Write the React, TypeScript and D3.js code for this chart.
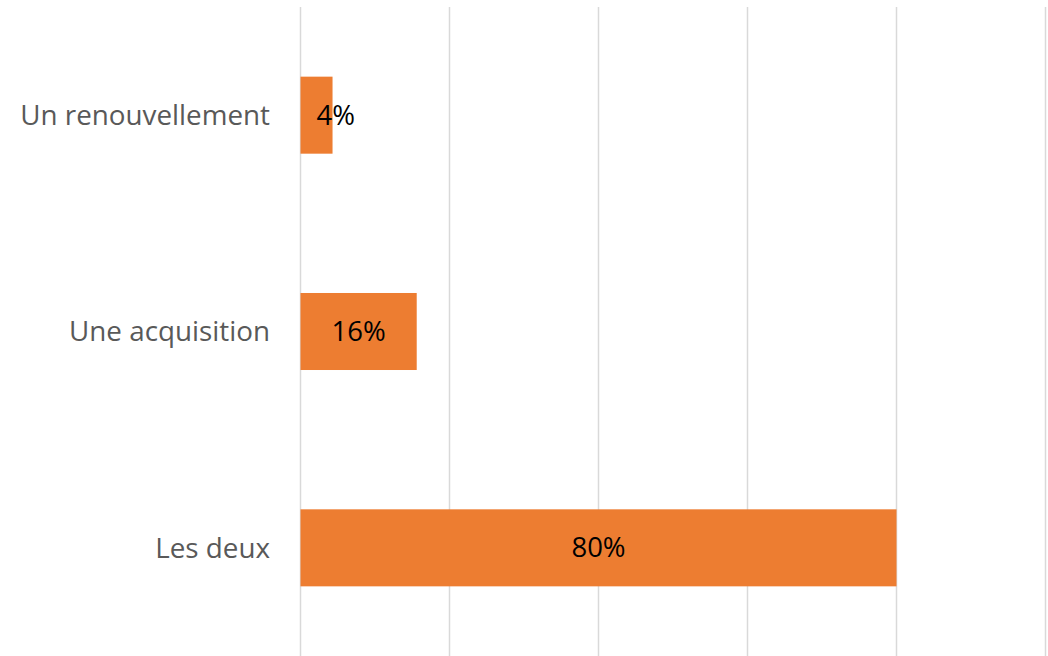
import React from "react";
import * as d3 from "d3";

const categories = ["Un renouvellement", "Une acquisition", "Les deux"];
const values = [4.3, 15.6, 80];
const ticks = [0, 20, 40, 60, 80, 100];

const W = 1048;
const H = 656;

export default function App() {
  const x = d3.scaleLinear().domain([0, 100]).range([300.5, 1045.5]);
  const y = d3
    .scaleBand<string>()
    .domain(categories)
    .range([7, 656])
    .paddingInner(0.644)
    .paddingOuter(0.322);
  const font = "'Open Sans', sans-serif";
  return (
    <div style={{ position: "absolute", left: 0, top: 0 }}>
      <svg width={W} height={H} style={{ display: "block", background: "#fff" }}>
        {ticks.map((t) => (
          <line key={t} x1={x(t)} x2={x(t)} y1={7} y2={H} stroke="#d9d9d9" strokeWidth={1.5} />
        ))}
        {categories.map((c, i) => {
          const y0 = y(c)!;
          const bw = x(values[i]) - x(0);
          const cx = x(0) + bw / 2;
          const narrow = bw < 50;
          return (
            <g key={c}>
              <rect x={x(0)} y={y0} width={bw} height={y.bandwidth()} fill="#ED7D31" />
              <text
                x={270}
                y={y0 + y.bandwidth() / 2}
                dy="0.35em"
                textAnchor="end"
                fill="#595959"
                fontFamily={font}
                fontSize={27.8}
              >
                {c}
              </text>
              <text
                x={cx}
                y={y0 + y.bandwidth() / 2}
                dy="0.35em"
                textAnchor={narrow ? "start" : "middle"}
                fill="#000"
                fontFamily={font}
                fontSize={27.5}
              >
                {Math.round(values[i]) + "%"}
              </text>
            </g>
          );
        })}
      </svg>
    </div>
  );
}
